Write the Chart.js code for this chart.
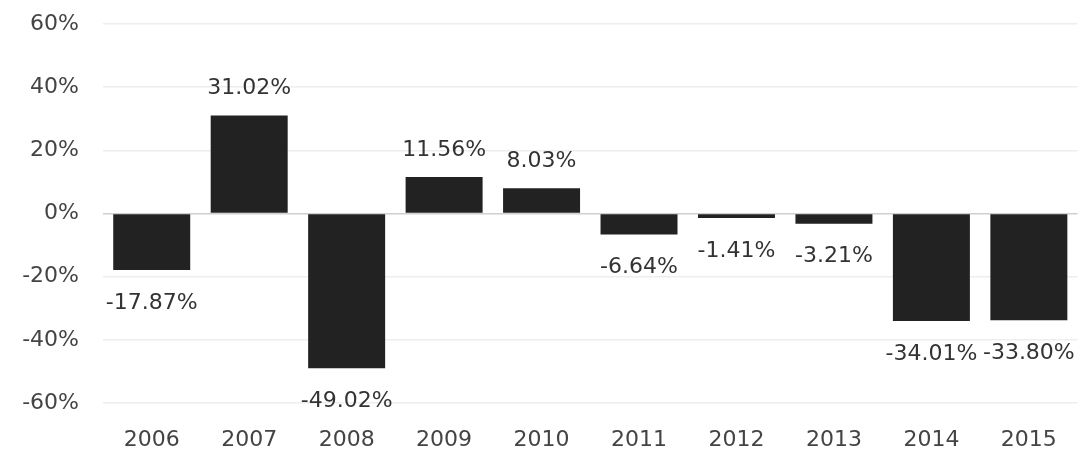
<!DOCTYPE html>
<html>
<head>
<meta charset="utf-8">
<script src="https://cdn.jsdelivr.net/npm/chart.js@4"></script>
<style>
  html, body { margin: 0; padding: 0; background: #fff; }
  #wrap { width: 1081px; height: 449px; }
</style>
</head>
<body>
<div id="wrap"><canvas id="returnsChart"></canvas></div>
<script>
// Annual returns
const years = ['2006', '2007', '2008', '2009', '2010', '2011', '2012', '2013', '2014', '2015'];
const returns = [-17.87, 31.02, -49.02, 11.56, 8.03, -6.64, -1.41, -3.21, -34.01, -33.80];
const yTicks = [-60, -40, -20, 0, 20, 40, 60];

const fontFamily = '"DejaVu Sans", sans-serif';

// Draw value labels above positive bars and below negative ones
const valueLabels = {
    id: 'valueLabels',
    afterDatasetsDraw(chart) {
        const ctx = chart.ctx;
        const meta = chart.getDatasetMeta(0);
        ctx.save();
        ctx.font = '22px ' + fontFamily;
        ctx.fillStyle = '#333';
        ctx.textAlign = 'center';
        ctx.textBaseline = 'middle';
        meta.data.forEach((bar, i) => {
            const v = returns[i];
            const y = v >= 0 ? bar.y - 27 : bar.y + 33;
            ctx.fillText(v.toFixed(2) + '%', bar.x, y);
        });
        ctx.restore();
    }
};

const ctx = document.getElementById('returnsChart').getContext('2d');
new Chart(ctx, {
    type: 'bar',
    data: {
        labels: years,
        datasets: [{
            data: returns,
            backgroundColor: '#222222',
            borderWidth: 0,
            barPercentage: 0.79,
            categoryPercentage: 1.0
        }]
    },
    options: {
        responsive: true,
        maintainAspectRatio: false,
        animation: false,
        layout: { padding: { top: 24, right: 3, left: 0, bottom: 0 } },
        plugins: {
            legend: { display: false },
            tooltip: { enabled: false }
        },
        scales: {
            x: {
                grid: { display: false, drawTicks: false },
                border: { display: false },
                ticks: {
                    color: '#444',
                    font: { family: fontFamily, size: 22 },
                    padding: 24,
                    maxRotation: 0
                },
                afterFit: (scale) => { scale.height = 46; }
            },
            y: {
                min: -60,
                max: 60,
                afterBuildTicks: (scale) => { scale.ticks = yTicks.map(v => ({ value: v })); },
                grid: {
                    drawTicks: false,
                    color: (c) => c.tick && c.tick.value === 0 ? '#cfcfcf' : '#eeeeee',
                    lineWidth: 1.5
                },
                border: { display: false },
                ticks: {
                    color: '#444',
                    font: { family: fontFamily, size: 22 },
                    padding: 24,
                    callback: (v) => v + '%'
                },
                afterFit: (scale) => {
                    scale.width = 103;
                    scale.paddingTop = 0;
                    scale.paddingBottom = 0;
                }
            }
        }
    },
    plugins: [valueLabels]
});
</script>
</body>
</html>
